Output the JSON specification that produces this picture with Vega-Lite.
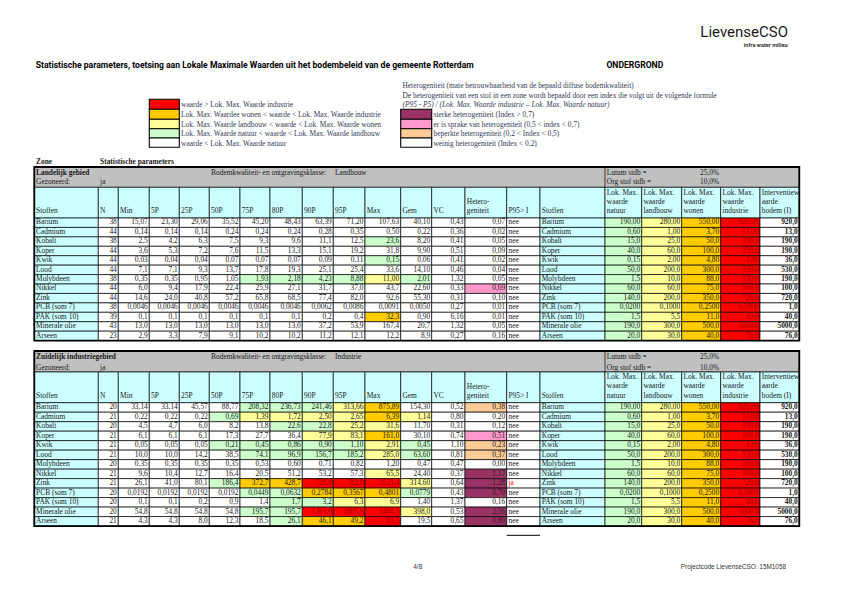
{
"$schema":"https://vega.github.io/schema/vega-lite/v6.json",
"width":842,"height":595,"padding":0,"autosize":{"type":"none"},"background":"white",
"config":{"view":{"stroke":null}},
"datasets":{
"cols":[{"c":"Stoffen","x0":34.3,"x1":98.3},{"c":"N","x0":98.3,"x1":118.3},{"c":"Min","x0":118.3,"x1":149.3},{"c":"P5","x0":149.3,"x1":179.3},{"c":"P25","x0":179.3,"x1":209.3},{"c":"P50","x0":209.3,"x1":240},{"c":"P75","x0":240,"x1":270},{"c":"P80","x0":270,"x1":302.3},{"c":"P90","x0":302.3,"x1":333.3},{"c":"P95","x0":333.3,"x1":365},{"c":"Max","x0":365,"x1":400.7},{"c":"Gem","x0":400.7,"x1":431.7},{"c":"VC","x0":431.7,"x1":465},{"c":"Het","x0":465,"x1":506.7},{"c":"P95I","x0":506.7,"x1":540},{"c":"Stoffen2","x0":540,"x1":605},{"c":"nat","x0":605,"x1":641.7},{"c":"land","x0":641.7,"x1":681.7},{"c":"won","x0":681.7,"x1":720.7},{"c":"ind","x0":720.7,"x1":760},{"c":"int","x0":760,"x1":799.3},{"c":"all","x0":34.3,"x1":799.3},{"c":"lok","x0":605,"x1":799.3},{"c":"logo","x0":700,"x1":789.5},{"c":"foot","x0":411.5,"x1":787.5}],
"rows":[{"r":"logo","y0":37.3,"y1":37.3},{"r":"infra","y0":47.4,"y1":47.4},{"r":"title","y0":68,"y1":68},{"r":"hh1","y0":88,"y1":88},{"r":"hh2","y0":97.7,"y1":97.7},{"r":"hh3","y0":106.7,"y1":106.7},
{"r":"L1","y0":99.3,"y1":109.3},{"r":"L2","y0":109.3,"y1":119.3},{"r":"L3","y0":119.3,"y1":128.7},{"r":"L4","y0":128.7,"y1":138},{"r":"L5","y0":138,"y1":147.3},
{"r":"L1t","y0":106.5,"y1":106.5},{"r":"L2t","y0":116.8,"y1":116.8},{"r":"L3t","y0":126.8,"y1":126.8},{"r":"L4t","y0":136.2,"y1":136.2},{"r":"L5t","y0":145.9,"y1":145.9},
{"r":"1z","y0":164,"y1":164},{"r":"1g","y0":167,"y1":187.3},{"r":"1g1","y0":175,"y1":175},{"r":"1g2","y0":184.3,"y1":184.3},{"r":"1|h","y0":187.3,"y1":218},
{"r":"1|Barium","y0":218,"y1":227.43},{"r":"1|Cadmium","y0":227.43,"y1":236.86},{"r":"1|Kobalt","y0":236.86,"y1":246.29},{"r":"1|Koper","y0":246.29,"y1":255.72},{"r":"1|Kwik","y0":255.72,"y1":265.15},{"r":"1|Lood","y0":265.15,"y1":274.58},{"r":"1|Molybdeen","y0":274.58,"y1":284.01},{"r":"1|Nikkel","y0":284.01,"y1":293.44},{"r":"1|Zink","y0":293.44,"y1":302.87},{"r":"1|PCB (som 7)","y0":302.87,"y1":312.3},{"r":"1|PAK (som 10)","y0":312.3,"y1":321.73},{"r":"1|Minerale olie","y0":321.73,"y1":331.16},{"r":"1|Arseen","y0":331.16,"y1":340.59},{"r":"1frame","y0":167,"y1":340.59},
{"r":"2g","y0":351,"y1":372},{"r":"2g1","y0":358.8,"y1":358.8},{"r":"2g2","y0":369.8,"y1":369.8},{"r":"2|h","y0":372,"y1":402.7},
{"r":"2|Barium","y0":402.7,"y1":412.19},{"r":"2|Cadmium","y0":412.19,"y1":421.68},{"r":"2|Kobalt","y0":421.68,"y1":431.17},{"r":"2|Koper","y0":431.17,"y1":440.66},{"r":"2|Kwik","y0":440.66,"y1":450.15},{"r":"2|Lood","y0":450.15,"y1":459.64},{"r":"2|Molybdeen","y0":459.64,"y1":469.13},{"r":"2|Nikkel","y0":469.13,"y1":478.62},{"r":"2|Zink","y0":478.62,"y1":488.11},{"r":"2|PCB (som 7)","y0":488.11,"y1":497.6},{"r":"2|PAK (som 10)","y0":497.6,"y1":507.09},{"r":"2|Minerale olie","y0":507.09,"y1":516.58},{"r":"2|Arseen","y0":516.58,"y1":526.07},{"r":"2frame","y0":351,"y1":526.07},
{"r":"fline","y0":535.3,"y1":535.3},{"r":"foot","y0":569,"y1":569}],
"boxes":[{"r":"1g","c":"all","k":"grey","role":"band"},{"r":"1g","c":"lok","k":"grey","role":"band"},{"r":"2g","c":"all","k":"grey","role":"band"},{"r":"2g","c":"lok","k":"grey","role":"band"},
{"r":"1frame","c":"all","k":"w","role":"frame"},{"r":"2frame","c":"all","k":"w","role":"frame"},
{"r":"L1","c":"P5","k":"R","role":"key"},{"r":"L2","c":"P5","k":"O","role":"key"},{"r":"L3","c":"P5","k":"Y","role":"key"},{"r":"L4","c":"P5","k":"G","role":"key"},{"r":"L5","c":"P5","k":"w","role":"key"},
{"r":"L2","c":"Gem","k":"S","role":"key"},{"r":"L3","c":"Gem","k":"P","role":"key"},{"r":"L4","c":"Gem","k":"B","role":"key"},{"r":"L5","c":"Gem","k":"w","role":"key"},
{"r":"fline","c":"P95I","k":"w","role":"line"}],
"notes":[{"r":"logo","c":"logo","v":"LievenseCSO","role":"logo"},{"r":"infra","c":"logo","v":"infra water milieu","role":"infra"},
{"r":"title","c":"Stoffen","v":"Statistische parameters, toetsing aan Lokale Maximale Waarden uit het bodembeleid van de gemeente Rotterdam","role":"title"},{"r":"title","c":"nat","v":"ONDERGROND","role":"title"},
{"r":"hh1","c":"Gem","v":"Heterogeniteit (mate betrouwbaarheid van de bepaald diffuse bodemkwaliteit)","role":"leg"},
{"r":"hh2","c":"Gem","v":"De heterogeniteit van een stof in een zone wordt bepaald door een index die volgt uit de volgende formule","role":"leg"},
{"r":"hh3","c":"Gem","v":"(P95 - P5) / (Lok. Max. Waarde industrie – Lok. Max. Waarde natuur)","role":"legi"},
{"r":"L1t","c":"P25","v":"waarde > Lok. Max. Waarde industrie","role":"leg"},
{"r":"L2t","c":"P25","v":"Lok. Max. Waardee wonen < waarde < Lok. Max. Waarde industrie","role":"leg"},
{"r":"L3t","c":"P25","v":"Lok. Max. Waarde landbouw < waarde < Lok. Max. Waarde wonen","role":"leg"},
{"r":"L4t","c":"P25","v":"Lok. Max. Waarde natuur < waarde < Lok. Max. Waarde landbouw","role":"leg"},
{"r":"L5t","c":"P25","v":"waarde < Lok. Max. Waarde natuur","role":"leg"},
{"r":"L2t","c":"VC","v":"sterke heterogeniteit (Index > 0,7)","role":"leg"},
{"r":"L3t","c":"VC","v":"er is sprake van heterogeniteit (0,5 < index < 0,7)","role":"leg"},
{"r":"L4t","c":"VC","v":"beperkte heterogeniteit (0,2 < Index < 0,5)","role":"leg"},
{"r":"L5t","c":"VC","v":"weinig heterogeniteit (Index < 0,2)","role":"leg"},
{"r":"1z","c":"Stoffen","v":"Zone","role":"bold"},{"r":"1z","c":"N","v":"Statistische parameters","role":"bold"},
{"r":"1g1","c":"Stoffen","v":"Landelijk gebied","role":"bold"},{"r":"1g1","c":"P50","v":"Bodemkwaliteit- en ontgravingsklasse:","role":"grey"},{"r":"1g1","c":"P95","v":"Landbouw","role":"grey"},{"r":"1g1","c":"nat","v":"Lutum stdb =","role":"grey"},{"r":"1g1","c":"won","v":"25,0%","role":"pct"},
{"r":"1g2","c":"Stoffen","v":"Gezoneerd:","role":"grey"},{"r":"1g2","c":"N","v":"ja","role":"grey"},{"r":"1g2","c":"nat","v":"Org stof stdb =","role":"grey"},{"r":"1g2","c":"won","v":"10,0%","role":"pct"},
{"r":"2g1","c":"Stoffen","v":"Zuidelijk industriegebied","role":"bold"},{"r":"2g1","c":"P50","v":"Bodemkwaliteit- en ontgravingsklasse:","role":"grey"},{"r":"2g1","c":"P95","v":"Industrie","role":"grey"},{"r":"2g1","c":"nat","v":"Lutum stdb =","role":"grey"},{"r":"2g1","c":"won","v":"25,0%","role":"pct"},
{"r":"2g2","c":"Stoffen","v":"Gezoneerd:","role":"grey"},{"r":"2g2","c":"N","v":"ja","role":"grey"},{"r":"2g2","c":"nat","v":"Org stof stdb =","role":"grey"},{"r":"2g2","c":"won","v":"10,0%","role":"pct"},
{"r":"foot","c":"foot","v":"4/8","role":"foot"},{"r":"foot","c":"foot","v":"Projectcode LievenseCSO: 15M1058","role":"footr"}],
"cells":[
{"t":1,"s":"h","c":"Stoffen","v":"Stoffen","k":"C"},{"t":1,"s":"h","c":"N","v":"N","k":"C"},{"t":1,"s":"h","c":"Min","v":"Min","k":"C"},{"t":1,"s":"h","c":"P5","v":"5P","k":"C"},{"t":1,"s":"h","c":"P25","v":"25P","k":"C"},{"t":1,"s":"h","c":"P50","v":"50P","k":"C"},{"t":1,"s":"h","c":"P75","v":"75P","k":"C"},{"t":1,"s":"h","c":"P80","v":"80P","k":"C"},{"t":1,"s":"h","c":"P90","v":"90P","k":"C"},{"t":1,"s":"h","c":"P95","v":"95P","k":"C"},{"t":1,"s":"h","c":"Max","v":"Max","k":"C"},{"t":1,"s":"h","c":"Gem","v":"Gem","k":"C"},{"t":1,"s":"h","c":"VC","v":"VC","k":"C"},{"t":1,"s":"h","c":"Het","v":"Hetero-\ngeniteit","k":"C"},{"t":1,"s":"h","c":"P95I","v":"P95> I","k":"C"},{"t":1,"s":"h","c":"Stoffen2","v":"Stoffen","k":"C"},{"t":1,"s":"h","c":"nat","v":"Lok. Max.\nwaarde\nnatuur","k":"C"},{"t":1,"s":"h","c":"land","v":"Lok. Max.\nwaarde\nlandbouw","k":"C"},{"t":1,"s":"h","c":"won","v":"Lok. Max.\nwaarde\nwonen","k":"C"},{"t":1,"s":"h","c":"ind","v":"Lok. Max.\nwaarde\nindustrie","k":"C"},{"t":1,"s":"h","c":"int","v":"Interventiew\naarde\nbodem (I)","k":"C"},
{"t":2,"s":"h","c":"Stoffen","v":"Stoffen","k":"C"},{"t":2,"s":"h","c":"N","v":"N","k":"C"},{"t":2,"s":"h","c":"Min","v":"Min","k":"C"},{"t":2,"s":"h","c":"P5","v":"5P","k":"C"},{"t":2,"s":"h","c":"P25","v":"25P","k":"C"},{"t":2,"s":"h","c":"P50","v":"50P","k":"C"},{"t":2,"s":"h","c":"P75","v":"75P","k":"C"},{"t":2,"s":"h","c":"P80","v":"80P","k":"C"},{"t":2,"s":"h","c":"P90","v":"90P","k":"C"},{"t":2,"s":"h","c":"P95","v":"95P","k":"C"},{"t":2,"s":"h","c":"Max","v":"Max","k":"C"},{"t":2,"s":"h","c":"Gem","v":"Gem","k":"C"},{"t":2,"s":"h","c":"VC","v":"VC","k":"C"},{"t":2,"s":"h","c":"Het","v":"Hetero-\ngeniteit","k":"C"},{"t":2,"s":"h","c":"P95I","v":"P95> I","k":"C"},{"t":2,"s":"h","c":"Stoffen2","v":"Stoffen","k":"C"},{"t":2,"s":"h","c":"nat","v":"Lok. Max.\nwaarde\nnatuur","k":"C"},{"t":2,"s":"h","c":"land","v":"Lok. Max.\nwaarde\nlandbouw","k":"C"},{"t":2,"s":"h","c":"won","v":"Lok. Max.\nwaarde\nwonen","k":"C"},{"t":2,"s":"h","c":"ind","v":"Lok. Max.\nwaarde\nindustrie","k":"C"},{"t":2,"s":"h","c":"int","v":"Interventiew\naarde\nbodem (I)","k":"C"},

{"t":1,"s":"Barium","c":"Stoffen","v":"Barium","k":"C"},{"t":1,"s":"Barium","c":"N","v":"38","k":"w"},{"t":1,"s":"Barium","c":"Min","v":"15,07","k":"w"},{"t":1,"s":"Barium","c":"P5","v":"23,30","k":"w"},{"t":1,"s":"Barium","c":"P25","v":"29,06","k":"w"},{"t":1,"s":"Barium","c":"P50","v":"35,52","k":"w"},{"t":1,"s":"Barium","c":"P75","v":"45,20","k":"w"},{"t":1,"s":"Barium","c":"P80","v":"48,43","k":"w"},{"t":1,"s":"Barium","c":"P90","v":"63,39","k":"w"},{"t":1,"s":"Barium","c":"P95","v":"71,20","k":"w"},{"t":1,"s":"Barium","c":"Max","v":"107,63","k":"w"},{"t":1,"s":"Barium","c":"Gem","v":"40,10","k":"w"},{"t":1,"s":"Barium","c":"VC","v":"0,43","k":"w"},{"t":1,"s":"Barium","c":"Het","v":"0,07","k":"w"},{"t":1,"s":"Barium","c":"P95I","v":"nee","k":"w"},{"t":1,"s":"Barium","c":"Stoffen2","v":"Barium","k":"C"},{"t":1,"s":"Barium","c":"nat","v":"190,00","k":"G"},{"t":1,"s":"Barium","c":"land","v":"280,00","k":"Y"},{"t":1,"s":"Barium","c":"won","v":"550,00","k":"O"},{"t":1,"s":"Barium","c":"ind","v":"920,00","k":"R"},{"t":1,"s":"Barium","c":"int","v":"920,0","k":"w"},
{"t":1,"s":"Cadmium","c":"Stoffen","v":"Cadmium","k":"C"},{"t":1,"s":"Cadmium","c":"N","v":"44","k":"w"},{"t":1,"s":"Cadmium","c":"Min","v":"0,14","k":"w"},{"t":1,"s":"Cadmium","c":"P5","v":"0,14","k":"w"},{"t":1,"s":"Cadmium","c":"P25","v":"0,14","k":"w"},{"t":1,"s":"Cadmium","c":"P50","v":"0,24","k":"w"},{"t":1,"s":"Cadmium","c":"P75","v":"0,24","k":"w"},{"t":1,"s":"Cadmium","c":"P80","v":"0,24","k":"w"},{"t":1,"s":"Cadmium","c":"P90","v":"0,28","k":"w"},{"t":1,"s":"Cadmium","c":"P95","v":"0,35","k":"w"},{"t":1,"s":"Cadmium","c":"Max","v":"0,50","k":"w"},{"t":1,"s":"Cadmium","c":"Gem","v":"0,22","k":"w"},{"t":1,"s":"Cadmium","c":"VC","v":"0,36","k":"w"},{"t":1,"s":"Cadmium","c":"Het","v":"0,02","k":"w"},{"t":1,"s":"Cadmium","c":"P95I","v":"nee","k":"w"},{"t":1,"s":"Cadmium","c":"Stoffen2","v":"Cadmium","k":"C"},{"t":1,"s":"Cadmium","c":"nat","v":"0,60","k":"G"},{"t":1,"s":"Cadmium","c":"land","v":"1,00","k":"Y"},{"t":1,"s":"Cadmium","c":"won","v":"3,70","k":"O"},{"t":1,"s":"Cadmium","c":"ind","v":"13,00","k":"R"},{"t":1,"s":"Cadmium","c":"int","v":"13,0","k":"w"},
{"t":1,"s":"Kobalt","c":"Stoffen","v":"Kobalt","k":"C"},{"t":1,"s":"Kobalt","c":"N","v":"38","k":"w"},{"t":1,"s":"Kobalt","c":"Min","v":"2,5","k":"w"},{"t":1,"s":"Kobalt","c":"P5","v":"4,2","k":"w"},{"t":1,"s":"Kobalt","c":"P25","v":"6,3","k":"w"},{"t":1,"s":"Kobalt","c":"P50","v":"7,5","k":"w"},{"t":1,"s":"Kobalt","c":"P75","v":"9,3","k":"w"},{"t":1,"s":"Kobalt","c":"P80","v":"9,6","k":"w"},{"t":1,"s":"Kobalt","c":"P90","v":"11,1","k":"w"},{"t":1,"s":"Kobalt","c":"P95","v":"12,5","k":"w"},{"t":1,"s":"Kobalt","c":"Max","v":"23,6","k":"G"},{"t":1,"s":"Kobalt","c":"Gem","v":"8,20","k":"w"},{"t":1,"s":"Kobalt","c":"VC","v":"0,41","k":"w"},{"t":1,"s":"Kobalt","c":"Het","v":"0,05","k":"w"},{"t":1,"s":"Kobalt","c":"P95I","v":"nee","k":"w"},{"t":1,"s":"Kobalt","c":"Stoffen2","v":"Kobalt","k":"C"},{"t":1,"s":"Kobalt","c":"nat","v":"15,0","k":"G"},{"t":1,"s":"Kobalt","c":"land","v":"25,0","k":"Y"},{"t":1,"s":"Kobalt","c":"won","v":"50,0","k":"O"},{"t":1,"s":"Kobalt","c":"ind","v":"190,0","k":"R"},{"t":1,"s":"Kobalt","c":"int","v":"190,0","k":"w"},
{"t":1,"s":"Koper","c":"Stoffen","v":"Koper","k":"C"},{"t":1,"s":"Koper","c":"N","v":"44","k":"w"},{"t":1,"s":"Koper","c":"Min","v":"3,6","k":"w"},{"t":1,"s":"Koper","c":"P5","v":"5,3","k":"w"},{"t":1,"s":"Koper","c":"P25","v":"7,2","k":"w"},{"t":1,"s":"Koper","c":"P50","v":"7,6","k":"w"},{"t":1,"s":"Koper","c":"P75","v":"11,5","k":"w"},{"t":1,"s":"Koper","c":"P80","v":"13,3","k":"w"},{"t":1,"s":"Koper","c":"P90","v":"15,1","k":"w"},{"t":1,"s":"Koper","c":"P95","v":"19,2","k":"w"},{"t":1,"s":"Koper","c":"Max","v":"31,8","k":"w"},{"t":1,"s":"Koper","c":"Gem","v":"9,90","k":"w"},{"t":1,"s":"Koper","c":"VC","v":"0,51","k":"w"},{"t":1,"s":"Koper","c":"Het","v":"0,09","k":"w"},{"t":1,"s":"Koper","c":"P95I","v":"nee","k":"w"},{"t":1,"s":"Koper","c":"Stoffen2","v":"Koper","k":"C"},{"t":1,"s":"Koper","c":"nat","v":"40,0","k":"G"},{"t":1,"s":"Koper","c":"land","v":"60,0","k":"Y"},{"t":1,"s":"Koper","c":"won","v":"100,0","k":"O"},{"t":1,"s":"Koper","c":"ind","v":"190,0","k":"R"},{"t":1,"s":"Koper","c":"int","v":"190,0","k":"w"},
{"t":1,"s":"Kwik","c":"Stoffen","v":"Kwik","k":"C"},{"t":1,"s":"Kwik","c":"N","v":"44","k":"w"},{"t":1,"s":"Kwik","c":"Min","v":"0,03","k":"w"},{"t":1,"s":"Kwik","c":"P5","v":"0,04","k":"w"},{"t":1,"s":"Kwik","c":"P25","v":"0,04","k":"w"},{"t":1,"s":"Kwik","c":"P50","v":"0,07","k":"w"},{"t":1,"s":"Kwik","c":"P75","v":"0,07","k":"w"},{"t":1,"s":"Kwik","c":"P80","v":"0,07","k":"w"},{"t":1,"s":"Kwik","c":"P90","v":"0,09","k":"w"},{"t":1,"s":"Kwik","c":"P95","v":"0,11","k":"w"},{"t":1,"s":"Kwik","c":"Max","v":"0,15","k":"G"},{"t":1,"s":"Kwik","c":"Gem","v":"0,06","k":"w"},{"t":1,"s":"Kwik","c":"VC","v":"0,41","k":"w"},{"t":1,"s":"Kwik","c":"Het","v":"0,02","k":"w"},{"t":1,"s":"Kwik","c":"P95I","v":"nee","k":"w"},{"t":1,"s":"Kwik","c":"Stoffen2","v":"Kwik","k":"C"},{"t":1,"s":"Kwik","c":"nat","v":"0,15","k":"G"},{"t":1,"s":"Kwik","c":"land","v":"2,00","k":"Y"},{"t":1,"s":"Kwik","c":"won","v":"4,80","k":"O"},{"t":1,"s":"Kwik","c":"ind","v":"4,80","k":"R"},{"t":1,"s":"Kwik","c":"int","v":"36,0","k":"w"},
{"t":1,"s":"Lood","c":"Stoffen","v":"Lood","k":"C"},{"t":1,"s":"Lood","c":"N","v":"44","k":"w"},{"t":1,"s":"Lood","c":"Min","v":"7,1","k":"w"},{"t":1,"s":"Lood","c":"P5","v":"7,1","k":"w"},{"t":1,"s":"Lood","c":"P25","v":"9,3","k":"w"},{"t":1,"s":"Lood","c":"P50","v":"13,7","k":"w"},{"t":1,"s":"Lood","c":"P75","v":"17,8","k":"w"},{"t":1,"s":"Lood","c":"P80","v":"19,3","k":"w"},{"t":1,"s":"Lood","c":"P90","v":"25,1","k":"w"},{"t":1,"s":"Lood","c":"P95","v":"25,4","k":"w"},{"t":1,"s":"Lood","c":"Max","v":"33,6","k":"w"},{"t":1,"s":"Lood","c":"Gem","v":"14,10","k":"w"},{"t":1,"s":"Lood","c":"VC","v":"0,46","k":"w"},{"t":1,"s":"Lood","c":"Het","v":"0,04","k":"w"},{"t":1,"s":"Lood","c":"P95I","v":"nee","k":"w"},{"t":1,"s":"Lood","c":"Stoffen2","v":"Lood","k":"C"},{"t":1,"s":"Lood","c":"nat","v":"50,0","k":"G"},{"t":1,"s":"Lood","c":"land","v":"200,0","k":"Y"},{"t":1,"s":"Lood","c":"won","v":"300,0","k":"O"},{"t":1,"s":"Lood","c":"ind","v":"530,0","k":"R"},{"t":1,"s":"Lood","c":"int","v":"530,0","k":"w"},
{"t":1,"s":"Molybdeen","c":"Stoffen","v":"Molybdeen","k":"C"},{"t":1,"s":"Molybdeen","c":"N","v":"38","k":"w"},{"t":1,"s":"Molybdeen","c":"Min","v":"0,35","k":"w"},{"t":1,"s":"Molybdeen","c":"P5","v":"0,35","k":"w"},{"t":1,"s":"Molybdeen","c":"P25","v":"0,95","k":"w"},{"t":1,"s":"Molybdeen","c":"P50","v":"1,05","k":"w"},{"t":1,"s":"Molybdeen","c":"P75","v":"1,93","k":"G"},{"t":1,"s":"Molybdeen","c":"P80","v":"2,18","k":"G"},{"t":1,"s":"Molybdeen","c":"P90","v":"4,23","k":"G"},{"t":1,"s":"Molybdeen","c":"P95","v":"8,88","k":"G"},{"t":1,"s":"Molybdeen","c":"Max","v":"11,00","k":"Y"},{"t":1,"s":"Molybdeen","c":"Gem","v":"2,01","k":"G"},{"t":1,"s":"Molybdeen","c":"VC","v":"1,32","k":"w"},{"t":1,"s":"Molybdeen","c":"Het","v":"0,05","k":"w"},{"t":1,"s":"Molybdeen","c":"P95I","v":"nee","k":"w"},{"t":1,"s":"Molybdeen","c":"Stoffen2","v":"Molybdeen","k":"C"},{"t":1,"s":"Molybdeen","c":"nat","v":"1,5","k":"G"},{"t":1,"s":"Molybdeen","c":"land","v":"10,0","k":"Y"},{"t":1,"s":"Molybdeen","c":"won","v":"88,0","k":"O"},{"t":1,"s":"Molybdeen","c":"ind","v":"190,0","k":"R"},{"t":1,"s":"Molybdeen","c":"int","v":"190,0","k":"w"},
{"t":1,"s":"Nikkel","c":"Stoffen","v":"Nikkel","k":"C"},{"t":1,"s":"Nikkel","c":"N","v":"44","k":"w"},{"t":1,"s":"Nikkel","c":"Min","v":"6,0","k":"w"},{"t":1,"s":"Nikkel","c":"P5","v":"9,4","k":"w"},{"t":1,"s":"Nikkel","c":"P25","v":"17,9","k":"w"},{"t":1,"s":"Nikkel","c":"P50","v":"22,4","k":"w"},{"t":1,"s":"Nikkel","c":"P75","v":"25,9","k":"w"},{"t":1,"s":"Nikkel","c":"P80","v":"27,1","k":"w"},{"t":1,"s":"Nikkel","c":"P90","v":"31,7","k":"w"},{"t":1,"s":"Nikkel","c":"P95","v":"37,0","k":"w"},{"t":1,"s":"Nikkel","c":"Max","v":"43,7","k":"w"},{"t":1,"s":"Nikkel","c":"Gem","v":"22,60","k":"w"},{"t":1,"s":"Nikkel","c":"VC","v":"0,33","k":"w"},{"t":1,"s":"Nikkel","c":"Het","v":"0,69","k":"P"},{"t":1,"s":"Nikkel","c":"P95I","v":"nee","k":"w"},{"t":1,"s":"Nikkel","c":"Stoffen2","v":"Nikkel","k":"C"},{"t":1,"s":"Nikkel","c":"nat","v":"60,0","k":"G"},{"t":1,"s":"Nikkel","c":"land","v":"60,0","k":"Y"},{"t":1,"s":"Nikkel","c":"won","v":"75,0","k":"O"},{"t":1,"s":"Nikkel","c":"ind","v":"100,0","k":"R"},{"t":1,"s":"Nikkel","c":"int","v":"100,0","k":"w"},
{"t":1,"s":"Zink","c":"Stoffen","v":"Zink","k":"C"},{"t":1,"s":"Zink","c":"N","v":"44","k":"w"},{"t":1,"s":"Zink","c":"Min","v":"14,6","k":"w"},{"t":1,"s":"Zink","c":"P5","v":"24,0","k":"w"},{"t":1,"s":"Zink","c":"P25","v":"40,8","k":"w"},{"t":1,"s":"Zink","c":"P50","v":"57,2","k":"w"},{"t":1,"s":"Zink","c":"P75","v":"65,8","k":"w"},{"t":1,"s":"Zink","c":"P80","v":"68,5","k":"w"},{"t":1,"s":"Zink","c":"P90","v":"77,4","k":"w"},{"t":1,"s":"Zink","c":"P95","v":"82,0","k":"w"},{"t":1,"s":"Zink","c":"Max","v":"92,6","k":"w"},{"t":1,"s":"Zink","c":"Gem","v":"55,30","k":"w"},{"t":1,"s":"Zink","c":"VC","v":"0,31","k":"w"},{"t":1,"s":"Zink","c":"Het","v":"0,10","k":"w"},{"t":1,"s":"Zink","c":"P95I","v":"nee","k":"w"},{"t":1,"s":"Zink","c":"Stoffen2","v":"Zink","k":"C"},{"t":1,"s":"Zink","c":"nat","v":"140,0","k":"G"},{"t":1,"s":"Zink","c":"land","v":"200,0","k":"Y"},{"t":1,"s":"Zink","c":"won","v":"350,0","k":"O"},{"t":1,"s":"Zink","c":"ind","v":"720,0","k":"R"},{"t":1,"s":"Zink","c":"int","v":"720,0","k":"w"},
{"t":1,"s":"PCB (som 7)","c":"Stoffen","v":"PCB (som 7)","k":"C"},{"t":1,"s":"PCB (som 7)","c":"N","v":"38","k":"w"},{"t":1,"s":"PCB (som 7)","c":"Min","v":"0,0046","k":"w"},{"t":1,"s":"PCB (som 7)","c":"P5","v":"0,0046","k":"w"},{"t":1,"s":"PCB (som 7)","c":"P25","v":"0,0046","k":"w"},{"t":1,"s":"PCB (som 7)","c":"P50","v":"0,0046","k":"w"},{"t":1,"s":"PCB (som 7)","c":"P75","v":"0,0046","k":"w"},{"t":1,"s":"PCB (som 7)","c":"P80","v":"0,0046","k":"w"},{"t":1,"s":"PCB (som 7)","c":"P90","v":"0,0062","k":"w"},{"t":1,"s":"PCB (som 7)","c":"P95","v":"0,0086","k":"w"},{"t":1,"s":"PCB (som 7)","c":"Max","v":"0,0091","k":"w"},{"t":1,"s":"PCB (som 7)","c":"Gem","v":"0,0050","k":"w"},{"t":1,"s":"PCB (som 7)","c":"VC","v":"0,27","k":"w"},{"t":1,"s":"PCB (som 7)","c":"Het","v":"0,01","k":"w"},{"t":1,"s":"PCB (som 7)","c":"P95I","v":"nee","k":"w"},{"t":1,"s":"PCB (som 7)","c":"Stoffen2","v":"PCB (som 7)","k":"C"},{"t":1,"s":"PCB (som 7)","c":"nat","v":"0,0200","k":"G"},{"t":1,"s":"PCB (som 7)","c":"land","v":"0,1000","k":"Y"},{"t":1,"s":"PCB (som 7)","c":"won","v":"0,2500","k":"O"},{"t":1,"s":"PCB (som 7)","c":"ind","v":"0,5000","k":"R"},{"t":1,"s":"PCB (som 7)","c":"int","v":"1,0","k":"w"},
{"t":1,"s":"PAK (som 10)","c":"Stoffen","v":"PAK (som 10)","k":"C"},{"t":1,"s":"PAK (som 10)","c":"N","v":"39","k":"w"},{"t":1,"s":"PAK (som 10)","c":"Min","v":"0,1","k":"w"},{"t":1,"s":"PAK (som 10)","c":"P5","v":"0,1","k":"w"},{"t":1,"s":"PAK (som 10)","c":"P25","v":"0,1","k":"w"},{"t":1,"s":"PAK (som 10)","c":"P50","v":"0,1","k":"w"},{"t":1,"s":"PAK (som 10)","c":"P75","v":"0,1","k":"w"},{"t":1,"s":"PAK (som 10)","c":"P80","v":"0,1","k":"w"},{"t":1,"s":"PAK (som 10)","c":"P90","v":"0,2","k":"w"},{"t":1,"s":"PAK (som 10)","c":"P95","v":"0,4","k":"w"},{"t":1,"s":"PAK (som 10)","c":"Max","v":"32,3","k":"O"},{"t":1,"s":"PAK (som 10)","c":"Gem","v":"0,90","k":"w"},{"t":1,"s":"PAK (som 10)","c":"VC","v":"6,16","k":"w"},{"t":1,"s":"PAK (som 10)","c":"Het","v":"0,01","k":"w"},{"t":1,"s":"PAK (som 10)","c":"P95I","v":"nee","k":"w"},{"t":1,"s":"PAK (som 10)","c":"Stoffen2","v":"PAK (som 10)","k":"C"},{"t":1,"s":"PAK (som 10)","c":"nat","v":"1,5","k":"G"},{"t":1,"s":"PAK (som 10)","c":"land","v":"5,5","k":"Y"},{"t":1,"s":"PAK (som 10)","c":"won","v":"11,0","k":"O"},{"t":1,"s":"PAK (som 10)","c":"ind","v":"40,0","k":"R"},{"t":1,"s":"PAK (som 10)","c":"int","v":"40,0","k":"w"},
{"t":1,"s":"Minerale olie","c":"Stoffen","v":"Minerale olie","k":"C"},{"t":1,"s":"Minerale olie","c":"N","v":"43","k":"w"},{"t":1,"s":"Minerale olie","c":"Min","v":"13,0","k":"w"},{"t":1,"s":"Minerale olie","c":"P5","v":"13,0","k":"w"},{"t":1,"s":"Minerale olie","c":"P25","v":"13,0","k":"w"},{"t":1,"s":"Minerale olie","c":"P50","v":"13,0","k":"w"},{"t":1,"s":"Minerale olie","c":"P75","v":"13,0","k":"w"},{"t":1,"s":"Minerale olie","c":"P80","v":"13,0","k":"w"},{"t":1,"s":"Minerale olie","c":"P90","v":"37,2","k":"w"},{"t":1,"s":"Minerale olie","c":"P95","v":"53,9","k":"w"},{"t":1,"s":"Minerale olie","c":"Max","v":"167,4","k":"w"},{"t":1,"s":"Minerale olie","c":"Gem","v":"20,7","k":"w"},{"t":1,"s":"Minerale olie","c":"VC","v":"1,32","k":"w"},{"t":1,"s":"Minerale olie","c":"Het","v":"0,05","k":"w"},{"t":1,"s":"Minerale olie","c":"P95I","v":"nee","k":"w"},{"t":1,"s":"Minerale olie","c":"Stoffen2","v":"Minerale olie","k":"C"},{"t":1,"s":"Minerale olie","c":"nat","v":"190,0","k":"G"},{"t":1,"s":"Minerale olie","c":"land","v":"300,0","k":"Y"},{"t":1,"s":"Minerale olie","c":"won","v":"500,0","k":"O"},{"t":1,"s":"Minerale olie","c":"ind","v":"1000,0","k":"R"},{"t":1,"s":"Minerale olie","c":"int","v":"5000,0","k":"w"},
{"t":1,"s":"Arseen","c":"Stoffen","v":"Arseen","k":"C"},{"t":1,"s":"Arseen","c":"N","v":"23","k":"w"},{"t":1,"s":"Arseen","c":"Min","v":"2,9","k":"w"},{"t":1,"s":"Arseen","c":"P5","v":"3,3","k":"w"},{"t":1,"s":"Arseen","c":"P25","v":"7,9","k":"w"},{"t":1,"s":"Arseen","c":"P50","v":"9,1","k":"w"},{"t":1,"s":"Arseen","c":"P75","v":"10,2","k":"w"},{"t":1,"s":"Arseen","c":"P80","v":"10,2","k":"w"},{"t":1,"s":"Arseen","c":"P90","v":"11,2","k":"w"},{"t":1,"s":"Arseen","c":"P95","v":"12,1","k":"w"},{"t":1,"s":"Arseen","c":"Max","v":"12,2","k":"w"},{"t":1,"s":"Arseen","c":"Gem","v":"8,9","k":"w"},{"t":1,"s":"Arseen","c":"VC","v":"0,27","k":"w"},{"t":1,"s":"Arseen","c":"Het","v":"0,16","k":"w"},{"t":1,"s":"Arseen","c":"P95I","v":"nee","k":"w"},{"t":1,"s":"Arseen","c":"Stoffen2","v":"Arseen","k":"C"},{"t":1,"s":"Arseen","c":"nat","v":"20,0","k":"G"},{"t":1,"s":"Arseen","c":"land","v":"30,0","k":"Y"},{"t":1,"s":"Arseen","c":"won","v":"40,0","k":"O"},{"t":1,"s":"Arseen","c":"ind","v":"76,0","k":"R"},{"t":1,"s":"Arseen","c":"int","v":"76,0","k":"w"},

{"t":2,"s":"Barium","c":"Stoffen","v":"Barium","k":"C"},{"t":2,"s":"Barium","c":"N","v":"20","k":"w"},{"t":2,"s":"Barium","c":"Min","v":"33,14","k":"w"},{"t":2,"s":"Barium","c":"P5","v":"33,14","k":"w"},{"t":2,"s":"Barium","c":"P25","v":"45,57","k":"w"},{"t":2,"s":"Barium","c":"P50","v":"88,77","k":"w"},{"t":2,"s":"Barium","c":"P75","v":"208,32","k":"G"},{"t":2,"s":"Barium","c":"P80","v":"236,73","k":"G"},{"t":2,"s":"Barium","c":"P90","v":"241,46","k":"G"},{"t":2,"s":"Barium","c":"P95","v":"313,66","k":"Y"},{"t":2,"s":"Barium","c":"Max","v":"875,89","k":"O"},{"t":2,"s":"Barium","c":"Gem","v":"154,30","k":"w"},{"t":2,"s":"Barium","c":"VC","v":"0,52","k":"w"},{"t":2,"s":"Barium","c":"Het","v":"0,38","k":"B"},{"t":2,"s":"Barium","c":"P95I","v":"nee","k":"w"},{"t":2,"s":"Barium","c":"Stoffen2","v":"Barium","k":"C"},{"t":2,"s":"Barium","c":"nat","v":"190,00","k":"G"},{"t":2,"s":"Barium","c":"land","v":"280,00","k":"Y"},{"t":2,"s":"Barium","c":"won","v":"550,00","k":"O"},{"t":2,"s":"Barium","c":"ind","v":"920,00","k":"R"},{"t":2,"s":"Barium","c":"int","v":"920,0","k":"w"},
{"t":2,"s":"Cadmium","c":"Stoffen","v":"Cadmium","k":"C"},{"t":2,"s":"Cadmium","c":"N","v":"21","k":"w"},{"t":2,"s":"Cadmium","c":"Min","v":"0,22","k":"w"},{"t":2,"s":"Cadmium","c":"P5","v":"0,22","k":"w"},{"t":2,"s":"Cadmium","c":"P25","v":"0,22","k":"w"},{"t":2,"s":"Cadmium","c":"P50","v":"0,69","k":"G"},{"t":2,"s":"Cadmium","c":"P75","v":"1,39","k":"Y"},{"t":2,"s":"Cadmium","c":"P80","v":"1,72","k":"Y"},{"t":2,"s":"Cadmium","c":"P90","v":"2,50","k":"Y"},{"t":2,"s":"Cadmium","c":"P95","v":"2,65","k":"Y"},{"t":2,"s":"Cadmium","c":"Max","v":"6,39","k":"O"},{"t":2,"s":"Cadmium","c":"Gem","v":"1,14","k":"Y"},{"t":2,"s":"Cadmium","c":"VC","v":"0,80","k":"w"},{"t":2,"s":"Cadmium","c":"Het","v":"0,20","k":"w"},{"t":2,"s":"Cadmium","c":"P95I","v":"nee","k":"w"},{"t":2,"s":"Cadmium","c":"Stoffen2","v":"Cadmium","k":"C"},{"t":2,"s":"Cadmium","c":"nat","v":"0,60","k":"G"},{"t":2,"s":"Cadmium","c":"land","v":"1,00","k":"Y"},{"t":2,"s":"Cadmium","c":"won","v":"3,70","k":"O"},{"t":2,"s":"Cadmium","c":"ind","v":"13,00","k":"R"},{"t":2,"s":"Cadmium","c":"int","v":"13,0","k":"w"},
{"t":2,"s":"Kobalt","c":"Stoffen","v":"Kobalt","k":"C"},{"t":2,"s":"Kobalt","c":"N","v":"20","k":"w"},{"t":2,"s":"Kobalt","c":"Min","v":"4,5","k":"w"},{"t":2,"s":"Kobalt","c":"P5","v":"4,7","k":"w"},{"t":2,"s":"Kobalt","c":"P25","v":"6,0","k":"w"},{"t":2,"s":"Kobalt","c":"P50","v":"8,2","k":"w"},{"t":2,"s":"Kobalt","c":"P75","v":"13,8","k":"w"},{"t":2,"s":"Kobalt","c":"P80","v":"22,6","k":"G"},{"t":2,"s":"Kobalt","c":"P90","v":"22,8","k":"G"},{"t":2,"s":"Kobalt","c":"P95","v":"25,2","k":"Y"},{"t":2,"s":"Kobalt","c":"Max","v":"31,6","k":"Y"},{"t":2,"s":"Kobalt","c":"Gem","v":"11,70","k":"w"},{"t":2,"s":"Kobalt","c":"VC","v":"0,31","k":"w"},{"t":2,"s":"Kobalt","c":"Het","v":"0,12","k":"w"},{"t":2,"s":"Kobalt","c":"P95I","v":"nee","k":"w"},{"t":2,"s":"Kobalt","c":"Stoffen2","v":"Kobalt","k":"C"},{"t":2,"s":"Kobalt","c":"nat","v":"15,0","k":"G"},{"t":2,"s":"Kobalt","c":"land","v":"25,0","k":"Y"},{"t":2,"s":"Kobalt","c":"won","v":"50,0","k":"O"},{"t":2,"s":"Kobalt","c":"ind","v":"190,0","k":"R"},{"t":2,"s":"Kobalt","c":"int","v":"190,0","k":"w"},
{"t":2,"s":"Koper","c":"Stoffen","v":"Koper","k":"C"},{"t":2,"s":"Koper","c":"N","v":"21","k":"w"},{"t":2,"s":"Koper","c":"Min","v":"6,1","k":"w"},{"t":2,"s":"Koper","c":"P5","v":"6,1","k":"w"},{"t":2,"s":"Koper","c":"P25","v":"6,1","k":"w"},{"t":2,"s":"Koper","c":"P50","v":"17,3","k":"w"},{"t":2,"s":"Koper","c":"P75","v":"27,7","k":"w"},{"t":2,"s":"Koper","c":"P80","v":"36,4","k":"w"},{"t":2,"s":"Koper","c":"P90","v":"77,9","k":"Y"},{"t":2,"s":"Koper","c":"P95","v":"83,1","k":"Y"},{"t":2,"s":"Koper","c":"Max","v":"161,0","k":"O"},{"t":2,"s":"Koper","c":"Gem","v":"30,10","k":"w"},{"t":2,"s":"Koper","c":"VC","v":"0,74","k":"w"},{"t":2,"s":"Koper","c":"Het","v":"0,51","k":"P"},{"t":2,"s":"Koper","c":"P95I","v":"nee","k":"w"},{"t":2,"s":"Koper","c":"Stoffen2","v":"Koper","k":"C"},{"t":2,"s":"Koper","c":"nat","v":"40,0","k":"G"},{"t":2,"s":"Koper","c":"land","v":"60,0","k":"Y"},{"t":2,"s":"Koper","c":"won","v":"100,0","k":"O"},{"t":2,"s":"Koper","c":"ind","v":"190,0","k":"R"},{"t":2,"s":"Koper","c":"int","v":"190,0","k":"w"},
{"t":2,"s":"Kwik","c":"Stoffen","v":"Kwik","k":"C"},{"t":2,"s":"Kwik","c":"N","v":"21","k":"w"},{"t":2,"s":"Kwik","c":"Min","v":"0,05","k":"w"},{"t":2,"s":"Kwik","c":"P5","v":"0,05","k":"w"},{"t":2,"s":"Kwik","c":"P25","v":"0,05","k":"w"},{"t":2,"s":"Kwik","c":"P50","v":"0,21","k":"G"},{"t":2,"s":"Kwik","c":"P75","v":"0,45","k":"G"},{"t":2,"s":"Kwik","c":"P80","v":"0,86","k":"G"},{"t":2,"s":"Kwik","c":"P90","v":"0,90","k":"G"},{"t":2,"s":"Kwik","c":"P95","v":"1,10","k":"G"},{"t":2,"s":"Kwik","c":"Max","v":"2,91","k":"Y"},{"t":2,"s":"Kwik","c":"Gem","v":"0,45","k":"G"},{"t":2,"s":"Kwik","c":"VC","v":"1,10","k":"w"},{"t":2,"s":"Kwik","c":"Het","v":"0,23","k":"B"},{"t":2,"s":"Kwik","c":"P95I","v":"nee","k":"w"},{"t":2,"s":"Kwik","c":"Stoffen2","v":"Kwik","k":"C"},{"t":2,"s":"Kwik","c":"nat","v":"0,15","k":"G"},{"t":2,"s":"Kwik","c":"land","v":"2,00","k":"Y"},{"t":2,"s":"Kwik","c":"won","v":"4,80","k":"O"},{"t":2,"s":"Kwik","c":"ind","v":"4,80","k":"R"},{"t":2,"s":"Kwik","c":"int","v":"36,0","k":"w"},
{"t":2,"s":"Lood","c":"Stoffen","v":"Lood","k":"C"},{"t":2,"s":"Lood","c":"N","v":"21","k":"w"},{"t":2,"s":"Lood","c":"Min","v":"10,0","k":"w"},{"t":2,"s":"Lood","c":"P5","v":"10,0","k":"w"},{"t":2,"s":"Lood","c":"P25","v":"14,2","k":"w"},{"t":2,"s":"Lood","c":"P50","v":"38,5","k":"w"},{"t":2,"s":"Lood","c":"P75","v":"74,1","k":"G"},{"t":2,"s":"Lood","c":"P80","v":"96,9","k":"G"},{"t":2,"s":"Lood","c":"P90","v":"156,7","k":"G"},{"t":2,"s":"Lood","c":"P95","v":"185,2","k":"G"},{"t":2,"s":"Lood","c":"Max","v":"285,0","k":"Y"},{"t":2,"s":"Lood","c":"Gem","v":"63,60","k":"G"},{"t":2,"s":"Lood","c":"VC","v":"0,81","k":"w"},{"t":2,"s":"Lood","c":"Het","v":"0,37","k":"B"},{"t":2,"s":"Lood","c":"P95I","v":"nee","k":"w"},{"t":2,"s":"Lood","c":"Stoffen2","v":"Lood","k":"C"},{"t":2,"s":"Lood","c":"nat","v":"50,0","k":"G"},{"t":2,"s":"Lood","c":"land","v":"200,0","k":"Y"},{"t":2,"s":"Lood","c":"won","v":"300,0","k":"O"},{"t":2,"s":"Lood","c":"ind","v":"530,0","k":"R"},{"t":2,"s":"Lood","c":"int","v":"530,0","k":"w"},
{"t":2,"s":"Molybdeen","c":"Stoffen","v":"Molybdeen","k":"C"},{"t":2,"s":"Molybdeen","c":"N","v":"20","k":"w"},{"t":2,"s":"Molybdeen","c":"Min","v":"0,35","k":"w"},{"t":2,"s":"Molybdeen","c":"P5","v":"0,35","k":"w"},{"t":2,"s":"Molybdeen","c":"P25","v":"0,35","k":"w"},{"t":2,"s":"Molybdeen","c":"P50","v":"0,35","k":"w"},{"t":2,"s":"Molybdeen","c":"P75","v":"0,53","k":"w"},{"t":2,"s":"Molybdeen","c":"P80","v":"0,60","k":"w"},{"t":2,"s":"Molybdeen","c":"P90","v":"0,71","k":"w"},{"t":2,"s":"Molybdeen","c":"P95","v":"0,82","k":"w"},{"t":2,"s":"Molybdeen","c":"Max","v":"1,20","k":"w"},{"t":2,"s":"Molybdeen","c":"Gem","v":"0,47","k":"w"},{"t":2,"s":"Molybdeen","c":"VC","v":"0,47","k":"w"},{"t":2,"s":"Molybdeen","c":"Het","v":"0,00","k":"w"},{"t":2,"s":"Molybdeen","c":"P95I","v":"nee","k":"w"},{"t":2,"s":"Molybdeen","c":"Stoffen2","v":"Molybdeen","k":"C"},{"t":2,"s":"Molybdeen","c":"nat","v":"1,5","k":"G"},{"t":2,"s":"Molybdeen","c":"land","v":"10,0","k":"Y"},{"t":2,"s":"Molybdeen","c":"won","v":"88,0","k":"O"},{"t":2,"s":"Molybdeen","c":"ind","v":"190,0","k":"R"},{"t":2,"s":"Molybdeen","c":"int","v":"190,0","k":"w"},
{"t":2,"s":"Nikkel","c":"Stoffen","v":"Nikkel","k":"C"},{"t":2,"s":"Nikkel","c":"N","v":"21","k":"w"},{"t":2,"s":"Nikkel","c":"Min","v":"9,6","k":"w"},{"t":2,"s":"Nikkel","c":"P5","v":"10,4","k":"w"},{"t":2,"s":"Nikkel","c":"P25","v":"12,7","k":"w"},{"t":2,"s":"Nikkel","c":"P50","v":"16,4","k":"w"},{"t":2,"s":"Nikkel","c":"P75","v":"20,5","k":"w"},{"t":2,"s":"Nikkel","c":"P80","v":"51,2","k":"w"},{"t":2,"s":"Nikkel","c":"P90","v":"53,2","k":"w"},{"t":2,"s":"Nikkel","c":"P95","v":"57,3","k":"w"},{"t":2,"s":"Nikkel","c":"Max","v":"65,5","k":"Y"},{"t":2,"s":"Nikkel","c":"Gem","v":"24,40","k":"w"},{"t":2,"s":"Nikkel","c":"VC","v":"0,37","k":"w"},{"t":2,"s":"Nikkel","c":"Het","v":"1,17","k":"S"},{"t":2,"s":"Nikkel","c":"P95I","v":"nee","k":"w"},{"t":2,"s":"Nikkel","c":"Stoffen2","v":"Nikkel","k":"C"},{"t":2,"s":"Nikkel","c":"nat","v":"60,0","k":"G"},{"t":2,"s":"Nikkel","c":"land","v":"60,0","k":"Y"},{"t":2,"s":"Nikkel","c":"won","v":"75,0","k":"O"},{"t":2,"s":"Nikkel","c":"ind","v":"100,0","k":"R"},{"t":2,"s":"Nikkel","c":"int","v":"100,0","k":"w"},
{"t":2,"s":"Zink","c":"Stoffen","v":"Zink","k":"C"},{"t":2,"s":"Zink","c":"N","v":"21","k":"w"},{"t":2,"s":"Zink","c":"Min","v":"26,1","k":"w"},{"t":2,"s":"Zink","c":"P5","v":"41,0","k":"w"},{"t":2,"s":"Zink","c":"P25","v":"80,1","k":"w"},{"t":2,"s":"Zink","c":"P50","v":"186,4","k":"G"},{"t":2,"s":"Zink","c":"P75","v":"372,7","k":"O"},{"t":2,"s":"Zink","c":"P80","v":"428,7","k":"O"},{"t":2,"s":"Zink","c":"P90","v":"726,8","k":"R"},{"t":2,"s":"Zink","c":"P95","v":"782,8","k":"R"},{"t":2,"s":"Zink","c":"Max","v":"1621,4","k":"R"},{"t":2,"s":"Zink","c":"Gem","v":"314,60","k":"Y"},{"t":2,"s":"Zink","c":"VC","v":"0,64","k":"w"},{"t":2,"s":"Zink","c":"Het","v":"1,28","k":"S"},{"t":2,"s":"Zink","c":"P95I","v":"ja","k":"w"},{"t":2,"s":"Zink","c":"Stoffen2","v":"Zink","k":"C"},{"t":2,"s":"Zink","c":"nat","v":"140,0","k":"G"},{"t":2,"s":"Zink","c":"land","v":"200,0","k":"Y"},{"t":2,"s":"Zink","c":"won","v":"350,0","k":"O"},{"t":2,"s":"Zink","c":"ind","v":"720,0","k":"R"},{"t":2,"s":"Zink","c":"int","v":"720,0","k":"w"},
{"t":2,"s":"PCB (som 7)","c":"Stoffen","v":"PCB (som 7)","k":"C"},{"t":2,"s":"PCB (som 7)","c":"N","v":"20","k":"w"},{"t":2,"s":"PCB (som 7)","c":"Min","v":"0,0192","k":"w"},{"t":2,"s":"PCB (som 7)","c":"P5","v":"0,0192","k":"w"},{"t":2,"s":"PCB (som 7)","c":"P25","v":"0,0192","k":"w"},{"t":2,"s":"PCB (som 7)","c":"P50","v":"0,0192","k":"w"},{"t":2,"s":"PCB (som 7)","c":"P75","v":"0,0449","k":"G"},{"t":2,"s":"PCB (som 7)","c":"P80","v":"0,0632","k":"G"},{"t":2,"s":"PCB (som 7)","c":"P90","v":"0,2784","k":"O"},{"t":2,"s":"PCB (som 7)","c":"P95","v":"0,3567","k":"O"},{"t":2,"s":"PCB (som 7)","c":"Max","v":"0,4801","k":"O"},{"t":2,"s":"PCB (som 7)","c":"Gem","v":"0,0779","k":"G"},{"t":2,"s":"PCB (som 7)","c":"VC","v":"0,43","k":"w"},{"t":2,"s":"PCB (som 7)","c":"Het","v":"0,70","k":"S"},{"t":2,"s":"PCB (som 7)","c":"P95I","v":"nee","k":"w"},{"t":2,"s":"PCB (som 7)","c":"Stoffen2","v":"PCB (som 7)","k":"C"},{"t":2,"s":"PCB (som 7)","c":"nat","v":"0,0200","k":"G"},{"t":2,"s":"PCB (som 7)","c":"land","v":"0,1000","k":"Y"},{"t":2,"s":"PCB (som 7)","c":"won","v":"0,2500","k":"O"},{"t":2,"s":"PCB (som 7)","c":"ind","v":"0,5000","k":"R"},{"t":2,"s":"PCB (som 7)","c":"int","v":"1,0","k":"w"},
{"t":2,"s":"PAK (som 10)","c":"Stoffen","v":"PAK (som 10)","k":"C"},{"t":2,"s":"PAK (som 10)","c":"N","v":"20","k":"w"},{"t":2,"s":"PAK (som 10)","c":"Min","v":"0,1","k":"w"},{"t":2,"s":"PAK (som 10)","c":"P5","v":"0,1","k":"w"},{"t":2,"s":"PAK (som 10)","c":"P25","v":"0,2","k":"w"},{"t":2,"s":"PAK (som 10)","c":"P50","v":"0,9","k":"w"},{"t":2,"s":"PAK (som 10)","c":"P75","v":"1,4","k":"w"},{"t":2,"s":"PAK (som 10)","c":"P80","v":"1,7","k":"G"},{"t":2,"s":"PAK (som 10)","c":"P90","v":"3,2","k":"G"},{"t":2,"s":"PAK (som 10)","c":"P95","v":"6,3","k":"Y"},{"t":2,"s":"PAK (som 10)","c":"Max","v":"6,9","k":"Y"},{"t":2,"s":"PAK (som 10)","c":"Gem","v":"1,40","k":"w"},{"t":2,"s":"PAK (som 10)","c":"VC","v":"1,37","k":"w"},{"t":2,"s":"PAK (som 10)","c":"Het","v":"0,16","k":"w"},{"t":2,"s":"PAK (som 10)","c":"P95I","v":"nee","k":"w"},{"t":2,"s":"PAK (som 10)","c":"Stoffen2","v":"PAK (som 10)","k":"C"},{"t":2,"s":"PAK (som 10)","c":"nat","v":"1,5","k":"G"},{"t":2,"s":"PAK (som 10)","c":"land","v":"5,5","k":"Y"},{"t":2,"s":"PAK (som 10)","c":"won","v":"11,0","k":"O"},{"t":2,"s":"PAK (som 10)","c":"ind","v":"40,0","k":"R"},{"t":2,"s":"PAK (som 10)","c":"int","v":"40,0","k":"w"},
{"t":2,"s":"Minerale olie","c":"Stoffen","v":"Minerale olie","k":"C"},{"t":2,"s":"Minerale olie","c":"N","v":"20","k":"w"},{"t":2,"s":"Minerale olie","c":"Min","v":"54,8","k":"w"},{"t":2,"s":"Minerale olie","c":"P5","v":"54,8","k":"w"},{"t":2,"s":"Minerale olie","c":"P25","v":"54,8","k":"w"},{"t":2,"s":"Minerale olie","c":"P50","v":"54,8","k":"w"},{"t":2,"s":"Minerale olie","c":"P75","v":"195,7","k":"G"},{"t":2,"s":"Minerale olie","c":"P80","v":"195,7","k":"G"},{"t":2,"s":"Minerale olie","c":"P90","v":"1263,9","k":"R"},{"t":2,"s":"Minerale olie","c":"P95","v":"1805,9","k":"R"},{"t":2,"s":"Minerale olie","c":"Max","v":"3404,3","k":"R"},{"t":2,"s":"Minerale olie","c":"Gem","v":"398,0","k":"Y"},{"t":2,"s":"Minerale olie","c":"VC","v":"0,53","k":"w"},{"t":2,"s":"Minerale olie","c":"Het","v":"2,16","k":"S"},{"t":2,"s":"Minerale olie","c":"P95I","v":"nee","k":"w"},{"t":2,"s":"Minerale olie","c":"Stoffen2","v":"Minerale olie","k":"C"},{"t":2,"s":"Minerale olie","c":"nat","v":"190,0","k":"G"},{"t":2,"s":"Minerale olie","c":"land","v":"300,0","k":"Y"},{"t":2,"s":"Minerale olie","c":"won","v":"500,0","k":"O"},{"t":2,"s":"Minerale olie","c":"ind","v":"1000,0","k":"R"},{"t":2,"s":"Minerale olie","c":"int","v":"5000,0","k":"w"},
{"t":2,"s":"Arseen","c":"Stoffen","v":"Arseen","k":"C"},{"t":2,"s":"Arseen","c":"N","v":"21","k":"w"},{"t":2,"s":"Arseen","c":"Min","v":"4,3","k":"w"},{"t":2,"s":"Arseen","c":"P5","v":"4,3","k":"w"},{"t":2,"s":"Arseen","c":"P25","v":"8,0","k":"w"},{"t":2,"s":"Arseen","c":"P50","v":"12,3","k":"w"},{"t":2,"s":"Arseen","c":"P75","v":"18,5","k":"w"},{"t":2,"s":"Arseen","c":"P80","v":"26,1","k":"G"},{"t":2,"s":"Arseen","c":"P90","v":"46,1","k":"O"},{"t":2,"s":"Arseen","c":"P95","v":"49,2","k":"O"},{"t":2,"s":"Arseen","c":"Max","v":"81,5","k":"R"},{"t":2,"s":"Arseen","c":"Gem","v":"19,5","k":"w"},{"t":2,"s":"Arseen","c":"VC","v":"0,65","k":"w"},{"t":2,"s":"Arseen","c":"Het","v":"0,80","k":"S"},{"t":2,"s":"Arseen","c":"P95I","v":"nee","k":"w"},{"t":2,"s":"Arseen","c":"Stoffen2","v":"Arseen","k":"C"},{"t":2,"s":"Arseen","c":"nat","v":"20,0","k":"G"},{"t":2,"s":"Arseen","c":"land","v":"30,0","k":"Y"},{"t":2,"s":"Arseen","c":"won","v":"40,0","k":"O"},{"t":2,"s":"Arseen","c":"ind","v":"76,0","k":"R"},{"t":2,"s":"Arseen","c":"int","v":"76,0","k":"w"}
]},
"layer":[
{"data":{"name":"boxes"},"transform":[{"filter":"datum.role==='band'"},{"lookup":"c","from":{"data":{"name":"cols"},"key":"c","fields":["x0","x1"]}},{"lookup":"r","from":{"data":{"name":"rows"},"key":"r","fields":["y0","y1"]}}],
"mark":{"type":"rect","stroke":"#000000","strokeWidth":0.7},
"encoding":{"x":{"field":"x0","type":"quantitative","scale":{"domain":[0,842],"nice":false,"zero":false},"axis":null},"x2":{"field":"x1"},"y":{"field":"y0","type":"quantitative","scale":{"domain":[0,595],"nice":false,"zero":false,"reverse":true},"axis":null},"y2":{"field":"y1"},
"fill":{"field":"k","type":"nominal","scale":{"domain":["w","G","Y","O","R","C","S","P","B","grey"],"range":["#FFFFFF","#CCFFCC","#FFFF99","#FFCC00","#FF0000","#CCFFFF","#993366","#FF99CC","#FFCC99","#C0C0C0"]},"legend":null}}},
{"data":{"name":"cells"},"transform":[{"calculate":"datum.t + '|' + datum.s","as":"r"},{"lookup":"c","from":{"data":{"name":"cols"},"key":"c","fields":["x0","x1"]}},{"lookup":"r","from":{"data":{"name":"rows"},"key":"r","fields":["y0","y1"]}}],
"mark":{"type":"rect","stroke":"#000000","strokeWidth":0.7},
"encoding":{"x":{"field":"x0","type":"quantitative"},"x2":{"field":"x1"},"y":{"field":"y0","type":"quantitative"},"y2":{"field":"y1"},"fill":{"field":"k","type":"nominal","legend":null}}},
{"data":{"name":"boxes"},"transform":[{"filter":"datum.role==='frame'"},{"lookup":"c","from":{"data":{"name":"cols"},"key":"c","fields":["x0","x1"]}},{"lookup":"r","from":{"data":{"name":"rows"},"key":"r","fields":["y0","y1"]}}],
"mark":{"type":"rect","filled":false,"stroke":"#000000","strokeWidth":1.8},
"encoding":{"x":{"field":"x0","type":"quantitative"},"x2":{"field":"x1"},"y":{"field":"y0","type":"quantitative"},"y2":{"field":"y1"}}},
{"data":{"name":"boxes"},"transform":[{"filter":"datum.role==='key'"},{"lookup":"c","from":{"data":{"name":"cols"},"key":"c","fields":["x0","x1"]}},{"lookup":"r","from":{"data":{"name":"rows"},"key":"r","fields":["y0","y1"]}}],
"mark":{"type":"rect","stroke":"#000000","strokeWidth":1.1},
"encoding":{"x":{"field":"x0","type":"quantitative"},"x2":{"field":"x1"},"y":{"field":"y0","type":"quantitative"},"y2":{"field":"y1"},"fill":{"field":"k","type":"nominal","legend":null}}},
{"data":{"name":"boxes"},"transform":[{"filter":"datum.role==='line'"},{"lookup":"c","from":{"data":{"name":"cols"},"key":"c","fields":["x0","x1"]}},{"lookup":"r","from":{"data":{"name":"rows"},"key":"r","fields":["y0","y1"]}}],
"mark":{"type":"rule","stroke":"#000000","strokeWidth":1},
"encoding":{"x":{"field":"x0","type":"quantitative"},"x2":{"field":"x1"},"y":{"field":"y1","type":"quantitative"}}},
{"data":{"name":"cells"},"transform":[{"filter":"datum.s!=='h' && indexof(['Stoffen','Stoffen2','P95I'], datum.c) >= 0"},{"calculate":"datum.t + '|' + datum.s","as":"r"},{"lookup":"c","from":{"data":{"name":"cols"},"key":"c","fields":["x0","x1"]}},{"lookup":"r","from":{"data":{"name":"rows"},"key":"r","fields":["y0","y1"]}}],
"mark":{"type":"text","font":"Liberation Serif","fontSize":7.4,"align":"left","baseline":"alphabetic","dx":1.8,"dy":-3},
"encoding":{"x":{"field":"x0","type":"quantitative"},"y":{"field":"y1","type":"quantitative"},"text":{"field":"v"},"color":{"condition":[{"test":"datum.v==='ja'","value":"#FF0000"}],"value":"#1a1a1a"}}},
{"data":{"name":"cells"},"transform":[{"filter":"datum.s!=='h' && indexof(['Stoffen','Stoffen2','P95I','int'], datum.c) < 0"},{"calculate":"datum.t + '|' + datum.s","as":"r"},{"lookup":"c","from":{"data":{"name":"cols"},"key":"c","fields":["x0","x1"]}},{"lookup":"r","from":{"data":{"name":"rows"},"key":"r","fields":["y0","y1"]}}],
"mark":{"type":"text","font":"Liberation Serif","fontSize":7.4,"align":"right","baseline":"alphabetic","dx":-1.5,"dy":-3},
"encoding":{"x":{"field":"x1","type":"quantitative"},"y":{"field":"y1","type":"quantitative"},"text":{"field":"v"},"color":{"condition":[{"test":"datum.k==='R'","value":"#990000"},{"test":"datum.k==='S'","value":"#3d1426"}],"value":"#1a1a1a"}}},
{"data":{"name":"cells"},"transform":[{"filter":"datum.s!=='h' && datum.c==='int'"},{"calculate":"datum.t + '|' + datum.s","as":"r"},{"lookup":"c","from":{"data":{"name":"cols"},"key":"c","fields":["x0","x1"]}},{"lookup":"r","from":{"data":{"name":"rows"},"key":"r","fields":["y0","y1"]}}],
"mark":{"type":"text","font":"Liberation Serif","fontSize":7.4,"fontWeight":"bold","align":"right","baseline":"alphabetic","dx":-1.5,"dy":-3,"color":"#1a1a1a"},
"encoding":{"x":{"field":"x1","type":"quantitative"},"y":{"field":"y1","type":"quantitative"},"text":{"field":"v"}}},
{"data":{"name":"cells"},"transform":[{"filter":"datum.s==='h' && length(split(datum.v, '\\n')) === 1"},{"calculate":"datum.t + '|' + datum.s","as":"r"},{"lookup":"c","from":{"data":{"name":"cols"},"key":"c","fields":["x0","x1"]}},{"lookup":"r","from":{"data":{"name":"rows"},"key":"r","fields":["y0","y1"]}}],
"mark":{"type":"text","font":"Liberation Serif","fontSize":7.4,"align":"left","baseline":"alphabetic","dx":1.8,"dy":-5,"color":"#1a1a1a"},
"encoding":{"x":{"field":"x0","type":"quantitative"},"y":{"field":"y1","type":"quantitative"},"text":{"field":"v"}}},
{"data":{"name":"cells"},"transform":[{"filter":"datum.s==='h' && length(split(datum.v, '\\n')) === 2"},{"calculate":"datum.t + '|' + datum.s","as":"r"},{"lookup":"c","from":{"data":{"name":"cols"},"key":"c","fields":["x0","x1"]}},{"lookup":"r","from":{"data":{"name":"rows"},"key":"r","fields":["y0","y1"]}}],
"mark":{"type":"text","font":"Liberation Serif","fontSize":7.4,"align":"left","baseline":"alphabetic","lineBreak":"\n","lineHeight":9.2,"dx":1.8,"dy":-14.2,"color":"#1a1a1a"},
"encoding":{"x":{"field":"x0","type":"quantitative"},"y":{"field":"y1","type":"quantitative"},"text":{"field":"v"}}},
{"data":{"name":"cells"},"transform":[{"filter":"datum.s==='h' && length(split(datum.v, '\\n')) === 3"},{"calculate":"datum.t + '|' + datum.s","as":"r"},{"lookup":"c","from":{"data":{"name":"cols"},"key":"c","fields":["x0","x1"]}},{"lookup":"r","from":{"data":{"name":"rows"},"key":"r","fields":["y0","y1"]}}],
"mark":{"type":"text","font":"Liberation Serif","fontSize":7.4,"align":"left","baseline":"alphabetic","lineBreak":"\n","lineHeight":9.2,"dx":1.8,"dy":-23.4,"color":"#1a1a1a"},
"encoding":{"x":{"field":"x0","type":"quantitative"},"y":{"field":"y1","type":"quantitative"},"text":{"field":"v"}}},
{"data":{"name":"notes"},"transform":[{"filter":"datum.role==='grey'"},{"lookup":"c","from":{"data":{"name":"cols"},"key":"c","fields":["x0","x1"]}},{"lookup":"r","from":{"data":{"name":"rows"},"key":"r","fields":["y0","y1"]}}],
"mark":{"type":"text","font":"Liberation Serif","fontSize":7.4,"align":"left","baseline":"alphabetic","dx":1.8,"color":"#1a1a1a"},
"encoding":{"x":{"field":"x0","type":"quantitative"},"y":{"field":"y1","type":"quantitative"},"text":{"field":"v"}}},
{"data":{"name":"notes"},"transform":[{"filter":"datum.role==='bold'"},{"lookup":"c","from":{"data":{"name":"cols"},"key":"c","fields":["x0","x1"]}},{"lookup":"r","from":{"data":{"name":"rows"},"key":"r","fields":["y0","y1"]}}],
"mark":{"type":"text","font":"Liberation Serif","fontSize":7.4,"fontWeight":"bold","align":"left","baseline":"alphabetic","dx":1.8,"color":"#1a1a1a"},
"encoding":{"x":{"field":"x0","type":"quantitative"},"y":{"field":"y1","type":"quantitative"},"text":{"field":"v"}}},
{"data":{"name":"notes"},"transform":[{"filter":"datum.role==='pct'"},{"lookup":"c","from":{"data":{"name":"cols"},"key":"c","fields":["x0","x1"]}},{"lookup":"r","from":{"data":{"name":"rows"},"key":"r","fields":["y0","y1"]}}],
"mark":{"type":"text","font":"Liberation Serif","fontSize":7.4,"align":"right","baseline":"alphabetic","dx":-1.5,"color":"#1a1a1a"},
"encoding":{"x":{"field":"x1","type":"quantitative"},"y":{"field":"y1","type":"quantitative"},"text":{"field":"v"}}},
{"data":{"name":"notes"},"transform":[{"filter":"datum.role==='leg'"},{"lookup":"c","from":{"data":{"name":"cols"},"key":"c","fields":["x0","x1"]}},{"lookup":"r","from":{"data":{"name":"rows"},"key":"r","fields":["y0","y1"]}}],
"mark":{"type":"text","font":"Liberation Serif","fontSize":7.4,"align":"left","baseline":"alphabetic","dx":1.8,"color":"#333a55"},
"encoding":{"x":{"field":"x0","type":"quantitative"},"y":{"field":"y1","type":"quantitative"},"text":{"field":"v"}}},
{"data":{"name":"notes"},"transform":[{"filter":"datum.role==='legi'"},{"lookup":"c","from":{"data":{"name":"cols"},"key":"c","fields":["x0","x1"]}},{"lookup":"r","from":{"data":{"name":"rows"},"key":"r","fields":["y0","y1"]}}],
"mark":{"type":"text","font":"Liberation Serif","fontSize":7.4,"fontStyle":"italic","align":"left","baseline":"alphabetic","dx":1.8,"color":"#333a55"},
"encoding":{"x":{"field":"x0","type":"quantitative"},"y":{"field":"y1","type":"quantitative"},"text":{"field":"v"}}},
{"data":{"name":"notes"},"transform":[{"filter":"datum.role==='title'"},{"lookup":"c","from":{"data":{"name":"cols"},"key":"c","fields":["x0","x1"]}},{"lookup":"r","from":{"data":{"name":"rows"},"key":"r","fields":["y0","y1"]}}],
"mark":{"type":"text","font":"Liberation Sans Narrow, Roboto, sans-serif","fontSize":8.6,"fontWeight":"bold","align":"left","baseline":"alphabetic","dx":1.4,"color":"#000000"},
"encoding":{"x":{"field":"x0","type":"quantitative"},"y":{"field":"y1","type":"quantitative"},"text":{"field":"v"}}},
{"data":{"name":"notes"},"transform":[{"filter":"datum.role==='logo'"},{"lookup":"c","from":{"data":{"name":"cols"},"key":"c","fields":["x0","x1"]}},{"lookup":"r","from":{"data":{"name":"rows"},"key":"r","fields":["y0","y1"]}}],
"mark":{"type":"text","font":"Liberation Sans Narrow, Roboto, sans-serif","fontSize":15,"align":"right","baseline":"alphabetic","dx":-1.5,"color":"#1a1a1a"},
"encoding":{"x":{"field":"x1","type":"quantitative"},"y":{"field":"y1","type":"quantitative"},"text":{"field":"v"}}},
{"data":{"name":"notes"},"transform":[{"filter":"datum.role==='infra'"},{"lookup":"c","from":{"data":{"name":"cols"},"key":"c","fields":["x0","x1"]}},{"lookup":"r","from":{"data":{"name":"rows"},"key":"r","fields":["y0","y1"]}}],
"mark":{"type":"text","font":"Liberation Sans Narrow, Roboto, sans-serif","fontSize":5.6,"fontWeight":"bold","align":"right","baseline":"alphabetic","dx":-1.8,"color":"#333333"},
"encoding":{"x":{"field":"x1","type":"quantitative"},"y":{"field":"y1","type":"quantitative"},"text":{"field":"v"}}},
{"data":{"name":"notes"},"transform":[{"filter":"datum.role==='foot'"},{"lookup":"c","from":{"data":{"name":"cols"},"key":"c","fields":["x0","x1"]}},{"lookup":"r","from":{"data":{"name":"rows"},"key":"r","fields":["y0","y1"]}}],
"mark":{"type":"text","font":"Liberation Sans, Arial, sans-serif","fontSize":6.4,"align":"left","baseline":"alphabetic","dx":1.8,"color":"#333333"},
"encoding":{"x":{"field":"x0","type":"quantitative"},"y":{"field":"y1","type":"quantitative"},"text":{"field":"v"}}},
{"data":{"name":"notes"},"transform":[{"filter":"datum.role==='footr'"},{"lookup":"c","from":{"data":{"name":"cols"},"key":"c","fields":["x0","x1"]}},{"lookup":"r","from":{"data":{"name":"rows"},"key":"r","fields":["y0","y1"]}}],
"mark":{"type":"text","font":"Liberation Sans, Arial, sans-serif","fontSize":6.4,"align":"right","baseline":"alphabetic","dx":-1.5,"color":"#333333"},
"encoding":{"x":{"field":"x1","type":"quantitative"},"y":{"field":"y1","type":"quantitative"},"text":{"field":"v"}}}
]}
